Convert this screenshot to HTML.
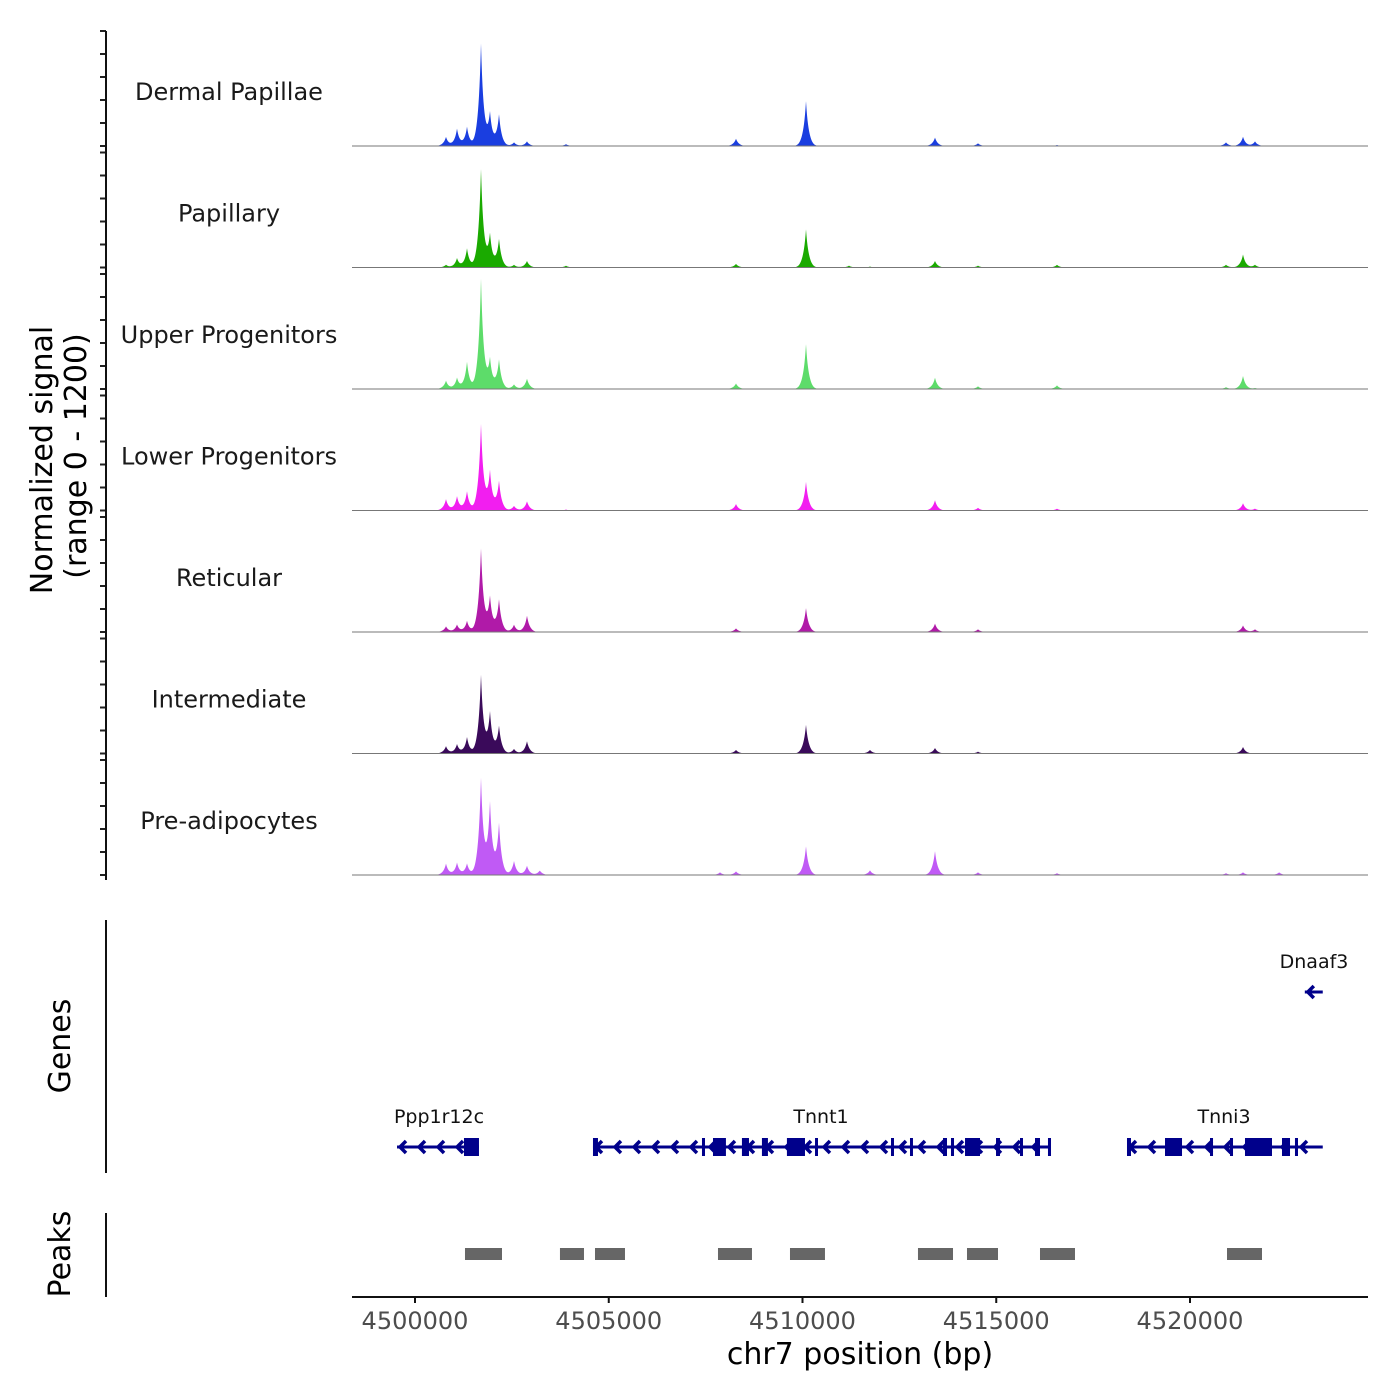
<!DOCTYPE html>
<html><head><meta charset="utf-8"><style>
body{margin:0;background:#fff}
svg{display:block;font-family:"DejaVu Sans","Liberation Sans",sans-serif}
</style></head><body>
<svg id="chart" width="1400" height="1400" viewBox="0 0 1400 1400">
<g id="tracks"></g>
<g id="genes"></g>
<g id="peaks"></g>
<g id="axes"></g>
</svg>
<script>
const trackNames=["Dermal Papillae","Papillary","Upper Progenitors","Lower Progenitors","Reticular","Intermediate","Pre-adipocytes"];
const trackColors=["#1a3ee0","#1aaa00","#5ddc6a","#f21ef0","#b01aa8","#3a0a5a","#c05af5"];
const peakPos=[4500800,4501084,4501342,4501703,4501935,4502168,4502555,4502890,4503220,4503897,4507871,4508284,4510090,4511200,4511742,4513419,4514529,4516568,4520929,4521368,4521677,4522300];
const sigDermal=[94,178,198,1064,334,324,38,48,0,19,0,76,470,0,0,88,28,10,38,96,48,0];
const sigPapillary=[28,96,198,1022,334,292,28,68,0,19,0,38,400,19,10,68,19,28,28,136,28,0];
const sigUpper=[86,115,282,1147,303,303,48,108,0,0,0,58,470,0,0,118,28,38,19,136,10,0];
const sigLower=[118,146,198,897,400,303,48,96,0,10,0,68,300,0,0,108,28,19,0,76,19,0];
const sigReticular=[58,76,115,866,355,334,76,170,0,0,0,38,250,0,0,88,28,0,0,68,28,0];
const sigIntermediate=[76,96,170,814,420,282,48,128,0,0,0,38,300,0,38,58,19,0,0,68,0,0];
const sigPreadipo=[118,128,118,1001,740,530,146,96,48,0,28,38,300,0,48,250,28,19,19,28,0,28];
const signals=[sigDermal,sigPapillary,sigUpper,sigLower,sigReticular,sigIntermediate,sigPreadipo];
const xTicks=[4500000,4505000,4510000,4515000,4520000];
const geneNames=["Ppp1r12c","Tnnt1","Tnni3","Dnaaf3"];
const geneStart=[4499536,4504593,4518374,4522963];
const geneEnd=[4501651,4516413,4523426,4523426];
const geneRow=[1,1,1,0];
const exonStart=[[4501264],[4504593,4507406,4507690,4508437,4508953,4509598,4510323,4512284,4512774,4513626,4513832,4514194,4514994,4515613,4516000,4516335],[4518374,4519355,4520516,4521032,4521419,4522374,4522709],[]];
const exonEnd=[[4501651],[4504722,4507484,4508024,4508619,4509108,4510064,4510400,4512361,4512851,4513729,4513910,4514581,4515097,4515690,4516129,4516413],[4518477,4519794,4520594,4521110,4522116,4522581,4522787],[]];
const peakStart=[4501290,4503741,4504645,4507819,4509677,4512980,4514245,4516129,4520955];
const peakEnd=[4502245,4504361,4505419,4508696,4510580,4513884,4515045,4517032,4521858];

const NS="http://www.w3.org/2000/svg";
const X0=352,X1=1368;
const xs=bp=>415+(bp-4500000)*0.03875;
const ys=v=>v/1200*115;
function mk(tag,attrs,parent,text){const e=document.createElementNS(NS,tag);for(const k in attrs)e.setAttribute(k,attrs[k]);if(text!==undefined)e.textContent=text;parent.appendChild(e);return e;}
const tracks=document.getElementById('tracks'),genes=document.getElementById('genes'),peaks=document.getElementById('peaks'),axes=document.getElementById('axes');

signals.forEach((sig,i)=>{
  const base=146+i*121.5;
  let d=`M${X0},${base}`;
  for(let px=X0;px<=X1;px+=0.5){
    const bp=4500000+(px-415)/0.03875;
    let v=0;
    for(let k=0;k<peakPos.length;k++){const dd=Math.abs(bp-peakPos[k]);v+=sig[k]*(0.8*Math.exp(-dd/55)+0.2*Math.exp(-(dd/140)*(dd/140)));}
    d+=`L${px},${(base-ys(v)).toFixed(2)}`;
  }
  d+=`L${X1},${base}Z`;
  const p=mk('path',{d:d,fill:trackColors[i]},tracks);
  
  
  const l=mk('line',{x1:X0,x2:X1,y1:base,y2:base,stroke:'#777','stroke-width':1},tracks);
  
  
  const t=mk('text',{x:229,y:base-46,'text-anchor':'middle','font-size':24,fill:'#1a1a1a'},tracks,trackNames[i]);
  
  
  for(let k=0;k<=5;k++){
    const y=base-k*23;
    const tk=mk('line',{x1:100,x2:106,y1:y,y2:y,stroke:'#222','stroke-width':2},axes);
    
    
  }
});

const gc="#00008B";
geneNames.forEach((g,i)=>{
  const y=geneRow[i]?1147:992;
  const x1=xs(geneStart[i]),x2=xs(geneEnd[i]);
  const ln=mk('line',{x1:x1,x2:x2,y1:y,y2:y,stroke:gc,'stroke-width':3},genes);
  
  
  const step=i===3?20:19;
  for(let x=x1+3;x<x2-3;x+=step){
    const c=mk('path',{d:`M${x+6},${y-6}L${x},${y}L${x+6},${y+6}`,fill:'none',stroke:gc,'stroke-width':3.5},genes);
    
    
  }
  exonStart[i].forEach((s,k)=>{
    const a=xs(s),b=xs(exonEnd[i][k]);
    const r=mk('rect',{x:a,y:y-9,width:Math.max(b-a,2.5),height:18,fill:gc},genes);
    
    
  });
  const t=mk('text',{x:i===0?439:(i===1?821:(i===2?1224:1314)),y:y-24,'text-anchor':'middle','font-size':19,fill:'#111'},genes,g);
  
  
});

peakStart.forEach((s,i)=>{
  const r=mk('rect',{x:xs(s),y:1248,width:xs(peakEnd[i])-xs(s),height:12,fill:'#666'},peaks);
  
  
});

function ax(attrs,name){const e=mk('line',Object.assign({stroke:'#111','stroke-width':2},attrs),axes);}
ax({x1:106,x2:106,y1:31,y2:880},'signal-y-axis');
ax({x1:106,x2:106,y1:920,y2:1173},'genes-y-axis');
ax({x1:106,x2:106,y1:1213,y2:1297},'peaks-y-axis');
ax({x1:X0,x2:X1,y1:1297,y2:1297},'x-axis');
xTicks.forEach(v=>{
  ax({x1:xs(v),x2:xs(v),y1:1297,y2:1303},'x-tick');
  const t=mk('text',{x:xs(v),y:1329,'text-anchor':'middle','font-size':24,fill:'#4d4d4d'},axes,String(v));
  
  
});
function lab(txt,x,y,size,rot,name){const t=mk('text',{x:x,y:y,'text-anchor':'middle','font-size':size,fill:'#000',transform:rot?`rotate(-90 ${x} ${y})`:''},axes,txt);}
lab('chr7 position (bp)',860,1364,30,false,'x-axis-title');
lab('Normalized signal',52,460,30,true,'y-axis-title');
lab('(range 0 - 1200)',86,456,30,true,'y-axis-subtitle');
lab('Genes',70,1046,30,true,'genes-label');
lab('Peaks',70,1254,30,true,'peaks-label');
</script>
</body></html>
